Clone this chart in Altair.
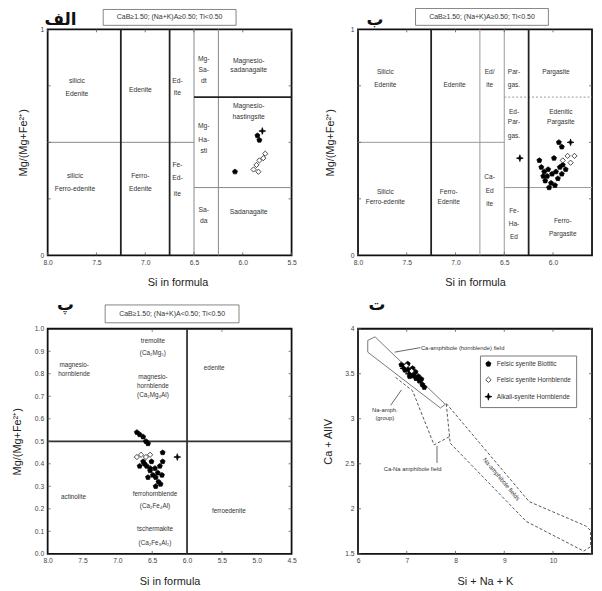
import altair as alt
import pandas as pd

FONT = "Liberation Sans"
AR_FONT = "DejaVu Sans"

# ---------------- shared symbol groups ----------------
GROUPS = ["Felsic syenite Biotitic", "Felsic syenite Hornblende", "Alkali-syenite Hornblende"]
SHAPES = ["M0,-1L0.951,-0.309L0.588,0.809L-0.588,0.809L-0.951,-0.309Z",
          "diamond",
          "M0,-1.3L0.3,-0.3L1.3,0L0.3,0.3L0,1.3L-0.3,0.3L-1.3,0L-0.3,-0.3Z"]
FILLS = ["black", "white", "black"]

LETTERS = ["الف", "ب", "پ", "ت"]
BOX_TEXT = ["CaB≥1.50; (Na+K)A≥0.50; Ti<0.50",
            "CaB≥1.50; (Na+K)A≥0.50; Ti<0.50",
            "CaB≥1.50; (Na+K)A<0.50; Ti<0.50"]

# ---------------- panel 1 ----------------
P1_SI = [5.80, 5.85, 5.83, 6.08, 5.89, 5.86, 5.83, 5.79, 5.77, 5.84]
P1_MG = [0.55, 0.53, 0.51, 0.37, 0.38, 0.40, 0.42, 0.43, 0.45, 0.37]
P1_GRP = [2, 0, 0, 0, 1, 1, 1, 1, 1, 1]
P1_XTICKS = [8.0, 7.5, 7.0, 6.5, 6.0, 5.5]
P1_YTICKS = [0, 1]
P1_THICK = [(7.25, 0, 7.25, 1), (6.75, 0, 6.75, 1), (6.5, 0.7, 5.5, 0.7)]
P1_THIN = [(6.5, 0, 6.5, 1), (6.25, 0, 6.25, 1), (8.0, 0.5, 6.5, 0.5), (6.5, 0.3, 5.5, 0.3)]
P1_LABELS = ["silicic", "Edenite", "Edenite", "Ed-", "ite", "Mg-", "Sa-", "dt",
             "Magnesio-", "sadanagaite", "Magnesio-", "hastingsite", "Mg-", "Ha-", "sti",
             "silicic", "Ferro-edenite", "Ferro-", "Edenite", "Fe-", "Ed-", "ite",
             "Sa-", "da", "Sadanagaite"]
P1_LX = [7.70, 7.70, 7.05, 6.67, 6.67, 6.40, 6.40, 6.40, 5.94, 5.94, 5.94, 5.94, 6.40, 6.40, 6.40,
         7.72, 7.72, 7.05, 7.05, 6.67, 6.67, 6.67, 6.40, 6.40, 5.94]
P1_LY = [0.77, 0.715, 0.73, 0.77, 0.72, 0.87, 0.82, 0.77, 0.86, 0.82, 0.66, 0.61, 0.57, 0.51, 0.46,
         0.35, 0.295, 0.35, 0.295, 0.40, 0.34, 0.27, 0.20, 0.15, 0.19]

# ---------------- panel 2 ----------------
P2_SI = [6.14, 6.12, 6.09, 6.06, 6.02, 5.98, 6.01, 6.05, 5.97, 5.93, 5.90, 5.87, 5.91, 5.95,
         6.08, 6.04, 5.99, 6.10, 5.94, 5.91,
         5.85, 5.78, 5.90, 5.82,
         6.34, 5.82]
P2_MG = [0.42, 0.39, 0.37, 0.35, 0.32, 0.31, 0.36, 0.38, 0.37, 0.39, 0.40, 0.38, 0.36, 0.34,
         0.33, 0.30, 0.43, 0.35, 0.50, 0.48,
         0.44, 0.44, 0.42, 0.41,
         0.43, 0.50]
P2_GRP = [0] * 20 + [1] * 4 + [2] * 2
P2_XTICKS = [8.0, 7.5, 7.0, 6.5, 6.0]
P2_YTICKS = [0, 1]
P2_THICK = [(7.25, 0, 7.25, 1), (6.25, 0, 6.25, 1)]
P2_THIN = [(6.75, 0, 6.75, 1), (6.5, 0, 6.5, 1), (8.0, 0.5, 6.5, 0.5), (6.5, 0.3, 5.6, 0.3)]
P2_DOTTED = [(6.5, 0.7, 5.6, 0.7)]
P2_LABELS = ["Silicic", "Edenite", "Edenite", "Ed/", "ite", "Par-", "gas.", "Pargasite",
             "Ed-", "Par-", "gas.", "Edenitic", "Pargasite",
             "Silicic", "Ferro-edenite", "Ferro-", "Edenite", "Ca-", "Ed", "ite",
             "Fe-", "Ha-", "Ed", "Ferro-", "Pargasite"]
P2_LX = [7.72, 7.72, 7.01, 6.65, 6.65, 6.40, 6.40, 5.97,
         6.40, 6.40, 6.40, 5.92, 5.92,
         7.72, 7.72, 7.07, 7.07, 6.65, 6.65, 6.65,
         6.40, 6.40, 6.40, 5.90, 5.90]
P2_LY = [0.81, 0.755, 0.755, 0.81, 0.755, 0.81, 0.755, 0.81,
         0.636, 0.588, 0.526, 0.636, 0.588,
         0.281, 0.237, 0.281, 0.237, 0.346, 0.285, 0.228,
         0.197, 0.140, 0.083, 0.154, 0.096]

# ---------------- panel 3 ----------------
P3_SI = [6.72, 6.68, 6.63, 6.59, 6.56, 6.63, 6.58, 6.53, 6.49, 6.45, 6.41, 6.38, 6.45, 6.53,
         6.61, 6.39, 6.35, 6.42, 6.36, 6.68, 6.51, 6.56, 6.46, 6.35,
         6.72, 6.66, 6.59, 6.53,
         6.14]
P3_MG = [0.54, 0.53, 0.52, 0.50, 0.49, 0.41, 0.39, 0.37, 0.35, 0.34, 0.32, 0.31, 0.30, 0.38,
         0.40, 0.39, 0.41, 0.36, 0.35, 0.39, 0.41, 0.34, 0.38, 0.45,
         0.43, 0.44, 0.43, 0.44,
         0.43]
P3_GRP = [0] * 24 + [1] * 4 + [2]
P3_XTICKS = [8.0, 7.5, 7.0, 6.5, 6.0, 5.5, 5.0, 4.5]
P3_YTICKS = [0.0, 0.1, 0.2, 0.3, 0.4, 0.5, 0.6, 0.7, 0.8, 0.9, 1.0]
P3_THICK = [(6.0, 0, 6.0, 1), (8.0, 0.5, 4.5, 0.5)]
P3_LABELS = ["magnesio-", "hornblende", "tremolite", "(Ca₂Mg₅)", "magnesio-", "hornblende",
             "(Ca₂Mg₄Al)", "edenite", "actinolite", "ferrohornblende", "(Ca₂Fe₄Al)",
             "tschermakite", "(Ca₂Fe₃Al₂)", "ferroedenite"]
P3_LX = [7.62, 7.62, 6.49, 6.49, 6.49, 6.49, 6.49, 5.61, 7.63, 6.46, 6.46, 6.46, 6.46, 5.40]
P3_LY = [0.837, 0.797, 0.947, 0.894, 0.784, 0.744, 0.705, 0.824, 0.251, 0.264, 0.211, 0.110, 0.048, 0.189]

# ---------------- panel 4 ----------------
P4_X = [6.89, 6.95, 7.02, 7.08, 7.14, 7.20, 7.26, 7.32, 7.36, 6.97, 7.06, 7.18, 7.24, 7.12, 7.30, 7.02,
        6.99, 7.10,
        6.93, 7.04, 7.16]
P4_Y = [3.60, 3.58, 3.55, 3.52, 3.48, 3.45, 3.42, 3.38, 3.35, 3.54, 3.47, 3.52, 3.47, 3.56, 3.44, 3.61,
        3.59, 3.53,
        3.56, 3.50, 3.46]
P4_GRP = [0] * 16 + [1] * 2 + [2] * 3
P4_XTICKS = [6, 7, 8, 9, 10]
P4_YTICKS = [1.5, 2.0, 2.5, 3.0, 3.5, 4.0]
P4_BAND_X = [6.20, 6.35, 7.79, 7.69, 6.20, 6.20]
P4_BAND_Y = [3.87, 3.91, 3.16, 3.12, 3.74, 3.87]
P4_IGN_X = [7.81, 9.51, 10.67, 10.77, 10.77, 10.63, 9.45, 7.89, 7.81]
P4_IGN_Y = [3.17, 2.08, 1.81, 1.76, 1.58, 1.53, 1.86, 2.73, 3.17]
P4_POCKET_X = [6.77, 7.12, 7.56, 7.87]
P4_POCKET_Y = [3.46, 3.31, 2.71, 2.80]
P4_LEADERS = [(6.75, 3.74, 7.28, 3.79), (6.67, 3.15, 6.89, 3.32), (7.62, 2.51, 7.62, 2.70)]
P4_LABELS = ["Na-amph.", "(group)", "Ca-Na amphibole field"]
P4_LX = [6.55, 6.55, 7.12]
P4_LY = [3.10, 3.01, 2.44]
P4_LEFT_LABEL = ["Ca-amphibole (hornblende) field"]
P4_LEFT_X = [7.29]
P4_LEFT_Y = [3.79]
P4_ROT_LABEL = ["Na-amphibole fields"]
P4_ROT_X = [8.94]
P4_ROT_Y = [2.33]


def sc(dom):
    return alt.Scale(domain=dom, nice=False, zero=False)


class Frame:
    """Scales and axes shared by every layer of one panel."""

    def __init__(self, xdom, ydom, xvals, xfmt, xtitle, yvals, yfmt, ytitle, ytx, xtx=None):
        self.xs, self.ys = sc(xdom), sc(ydom)
        kx = dict(values=xvals, format=xfmt, title=xtitle, titlePadding=11, labelFlush=False,
                  labelOverlap=False, labelPadding=4)
        if xtx is not None:
            kx["titleX"] = xtx
        self.xa = alt.Axis(**kx)
        self.ya = alt.Axis(values=yvals, format=yfmt, title=ytitle, titleX=ytx, labelPadding=4,
                           labelOverlap=False, labelFlush=False)

    def X(self, f="x:Q"):
        return alt.X(f, scale=self.xs, axis=self.xa)

    def Y(self, f="y:Q"):
        return alt.Y(f, scale=self.ys, axis=self.ya)


def seg_layer(segs, fr, color, width, dash=None):
    df = pd.DataFrame(segs, columns=["x", "y", "x2", "y2"])
    kw = dict(color=color, strokeWidth=width)
    if dash:
        kw["strokeDash"] = dash
    return alt.Chart(df).mark_rule(**kw).encode(x=fr.X(), y=fr.Y(), x2="x2:Q", y2="y2:Q")


def text_layer(labels, lx, ly, fr, size=6, **kw):
    df = pd.DataFrame({"x": lx, "y": ly, "t": labels})
    return alt.Chart(df).mark_text(font=FONT, fontSize=size, color="#333", **kw).encode(
        x=fr.X(), y=fr.Y(), text="t:N")


def inner_ticks(xt, yt, fr, w, h, L=3):
    dx = pd.DataFrame({"x": xt})
    dy = pd.DataFrame({"y": yt})
    kw = dict(color="#555", strokeWidth=0.8)
    return [
        alt.Chart(dx).mark_rule(**kw).encode(x=fr.X(), y=alt.value(h), y2=alt.value(h - L)),
        alt.Chart(dx).mark_rule(**kw).encode(x=fr.X(), y=alt.value(0), y2=alt.value(L)),
        alt.Chart(dy).mark_rule(**kw).encode(y=fr.Y(), x=alt.value(0), x2=alt.value(L)),
        alt.Chart(dy).mark_rule(**kw).encode(y=fr.Y(), x=alt.value(w), x2=alt.value(w - L)),
    ]


def header(letter, lx, ly, box=None):
    layers = [alt.Chart(pd.DataFrame({"t": [letter]})).mark_text(
        font=AR_FONT, fontSize=17, fontWeight="bold", color="#111", baseline="middle").encode(
        x=alt.value(lx), y=alt.value(ly), text="t:N")]
    if box:
        x0, x1, y0, y1, txt = box
        d = pd.DataFrame({"t": [txt]})
        layers.append(alt.Chart(d).mark_rect(fill="white", stroke="#666", strokeWidth=0.8).encode(
            x=alt.value(x0), x2=alt.value(x1), y=alt.value(y0), y2=alt.value(y1)))
        layers.append(alt.Chart(d).mark_text(font=FONT, fontSize=7, color="#333").encode(
            x=alt.value((x0 + x1) / 2), y=alt.value((y0 + y1) / 2), text="t:N"))
    return layers


def points(si, mg, grp, fr, legend=None):
    df = pd.DataFrame({"x": si, "y": mg, "grp": [GROUPS[g] for g in grp]})
    return alt.Chart(df).mark_point(filled=True, strokeWidth=0.7, size=28, opacity=1).encode(
        x=fr.X(), y=fr.Y(),
        shape=alt.Shape("grp:N", scale=alt.Scale(domain=GROUPS, range=SHAPES), legend=legend),
        fill=alt.Fill("grp:N", scale=alt.Scale(domain=GROUPS, range=FILLS), legend=legend),
        stroke=alt.Stroke("grp:N", scale=alt.Scale(domain=GROUPS, range=["black"] * 3), legend=legend),
    )


MGT = "Mg/(Mg+Fe²⁺)"

# ---------- panel 1 ----------
W1, H1 = 246, 228
f1 = Frame([8.0, 5.5], [0, 1], P1_XTICKS, ".1f", "Si in formula", P1_YTICKS, "d", MGT, -19, 131)
p1 = alt.layer(
    seg_layer(P1_THIN, f1, "#888", 1),
    seg_layer(P1_THICK, f1, "#222", 1.8),
    *inner_ticks(P1_XTICKS, [0.25, 0.5, 0.75], f1, W1, H1),
    text_layer(P1_LABELS, P1_LX, P1_LY, f1, size=6.8),
    points(P1_SI, P1_MG, P1_GRP, f1),
    *header(LETTERS[0], 13, -9, (56, 190, -20, -4, BOX_TEXT[0])),
).properties(width=W1, height=H1)

# ---------- panel 2 ----------
W2, H2 = 236, 228
f2 = Frame([8.0, 5.6], [0, 1], P2_XTICKS, ".1f", "Si in formula", P2_YTICKS, "d", MGT, -23)
p2 = alt.layer(
    seg_layer(P2_THIN, f2, "#999", 1),
    seg_layer(P2_DOTTED, f2, "#999", 1, [2, 2]),
    seg_layer(P2_THICK, f2, "#222", 1.8),
    *inner_ticks(P2_XTICKS, [0.25, 0.5, 0.75], f2, W2, H2),
    text_layer(P2_LABELS, P2_LX, P2_LY, f2, size=6.6),
    points(P2_SI, P2_MG, P2_GRP, f2),
    *header(LETTERS[1], 17, -9, (58, 192, -21, -4, BOX_TEXT[1])),
).properties(width=W2, height=H2)

# ---------- panel 3 ----------
W3, H3 = 246, 227
f3 = Frame([8.0, 4.5], [0, 1], P3_XTICKS, ".1f", "Si in formula", P3_YTICKS, ".1f", MGT, -25)
p3 = alt.layer(
    seg_layer(P3_THICK, f3, "#333", 1.8),
    *inner_ticks([6.5, 5.5], P3_YTICKS[1:-1], f3, W3, H3),
    text_layer(P3_LABELS, P3_LX, P3_LY, f3, size=6.4),
    points(P3_SI, P3_MG, P3_GRP, f3),
    *header(LETTERS[2], 18, -24, (58, 193, -24, -6, BOX_TEXT[2])),
).properties(width=W3, height=H3)

# ---------- panel 4 ----------
W4, H4 = 236, 227
f4 = Frame([6, 10.8], [1.5, 4], P4_XTICKS, "d", "Si + Na + K", P4_YTICKS, "~g", "Ca + AlIV", -25, 128)
band = pd.DataFrame({"x": P4_BAND_X, "y": P4_BAND_Y, "o": range(len(P4_BAND_X))})
ign = pd.DataFrame({"x": P4_IGN_X, "y": P4_IGN_Y, "o": range(len(P4_IGN_X))})
pocket = pd.DataFrame({"x": P4_POCKET_X, "y": P4_POCKET_Y, "o": range(len(P4_POCKET_X))})


def poly(df, dash=None, color="#555"):
    kw = dict(color=color, strokeWidth=1)
    if dash:
        kw["strokeDash"] = dash
    return alt.Chart(df).mark_line(**kw).encode(x=f4.X(), y=f4.Y(), order="o:Q")


legend4 = alt.Legend(orient="none", legendX=123, legendY=27, title=None, strokeColor="#777",
                     fillColor="white", padding=5, labelFont=FONT, labelFontSize=6.5,
                     labelColor="#333", symbolSize=30, symbolStrokeWidth=0.7,
                     rowPadding=7, labelOffset=5, labelLimit=0)
p4 = alt.layer(
    poly(band, None, "#777"),
    poly(ign, [3, 2], "#555"),
    poly(pocket, [3, 2], "#555"),
    seg_layer(P4_LEADERS, f4, "#555", 0.9),
    *inner_ticks(P4_XTICKS, P4_YTICKS, f4, W4, H4),
    text_layer(P4_LABELS, P4_LX, P4_LY, f4, size=5.9),
    text_layer(P4_LEFT_LABEL, P4_LEFT_X, P4_LEFT_Y, f4, size=5.9, align="left"),
    text_layer(P4_ROT_LABEL, P4_ROT_X, P4_ROT_Y, f4, size=6.2, angle=50),
    points(P4_X, P4_Y, P4_GRP, f4, legend=legend4),
    *header(LETTERS[3], 19, -24),
).properties(width=W4, height=H4)

chart = alt.concat(p1, p2, p3, p4, columns=2, spacing={"row": 74, "column": 67}, bounds="flush").resolve_scale(
    shape="independent", fill="independent", stroke="independent").resolve_legend(
    shape="independent", fill="independent", stroke="independent").properties(
    padding={"left": 3, "top": -4, "right": 0, "bottom": 0}
).configure_view(stroke="#111", strokeWidth=1.8).configure_axis(
    domain=False, ticks=False, grid=False, labelFont=FONT, labelFontSize=6.8, labelColor="#444",
    titleFont=FONT, titleFontSize=11, titleFontWeight="normal", titleColor="#222")

chart.save("out.html", embed_options={"renderer": "svg", "actions": False})
